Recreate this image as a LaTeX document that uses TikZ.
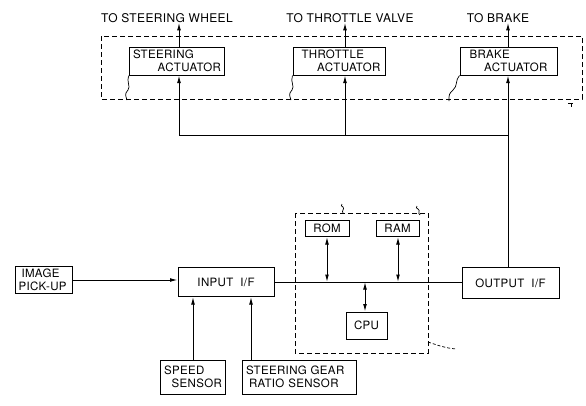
\documentclass[tikz,border=0pt]{standalone}
\usepackage{fontspec}
\setmainfont{TeX Gyre Heros}[LetterSpace=3]
\usetikzlibrary{arrows.meta}
\begin{document}
\begin{tikzpicture}[x=1pt,y=-1pt,
  box/.style={draw, line width=1pt, rectangle, inner xsep=3.5pt, inner ysep=1pt,
    font=\fontsize{11.5}{13.5}\selectfont, align=left},
  dbox/.style={draw, dash pattern=on 5pt off 3pt, line width=0.8pt},
  conn/.style={line width=1pt},
  tip/.tip={Latex[length=7.5pt,width=3.8pt]},
  arr/.style={conn, -tip},
  darr/.style={conn, tip-tip},
  lbl/.style={font=\fontsize{12}{14}\selectfont, inner sep=0pt},
  leader/.style={line width=0.7pt}
]
\useasboundingbox (0,0) rectangle (586,405);

% top dashed group
\draw[dbox] (101,36) rectangle (582,99);

% actuators
\node[box, minimum width=95pt, minimum height=28pt, text width=88pt] (sa) at (177,61)
  {STEERING\\\hspace*{\fill}ACTUATOR};
\node[box, minimum width=92pt, minimum height=28pt, text width=83pt] (ta) at (339,61)
  {\hspace*{4pt}THROTTLE\\\hspace*{\fill}ACTUATOR};
\node[box, minimum width=97pt, minimum height=28pt, text width=78pt] (ba) at (508.5,61)
  {BRAKE\\\hspace*{\fill}ACTUATOR};

% top labels
\node[lbl] (lsw) at (167,18) {TO STEERING WHEEL};
\node[lbl] (ltv) at (350,18) {TO THROTTLE VALVE};
\node[lbl] (lbr) at (498,18) {TO BRAKE};

\coordinate (sx) at (179,47);
\coordinate (tx) at (345,47);
\coordinate (bx) at (508,47);
\draw[arr] (sx) -- (sx |- lsw.south);
\draw[arr] (tx) -- (tx |- ltv.south);
\draw[arr] (bx) -- (bx |- lbr.south);

% lower blocks
\node[box, minimum width=57pt, minimum height=27pt, text width=50pt] (img) at (43.5,280)
  {\hspace*{3pt}IMAGE\\PICK-UP};
\node[box, minimum width=96pt, minimum height=29pt, align=center] (inp) at (226,282)
  {INPUT\ \ I/F};
\node[box, minimum width=97pt, minimum height=31pt, align=center] (out) at (510.5,283)
  {OUTPUT\ \ I/F};
\node[box, minimum width=65pt, minimum height=34pt, text width=58pt] (spd) at (193,377)
  {SPEED\\\hspace*{\fill}SENSOR};
\node[box, minimum width=114pt, minimum height=34pt, text width=106pt] (sgr) at (299,377)
  {STEERING GEAR\\\hspace*{3pt}RATIO SENSOR};

% CPU group
\draw[dbox] (295,213) rectangle (428,353);
\node[box, minimum width=44pt, minimum height=16pt, align=center] (rom) at (327,228.5) {ROM};
\node[box, minimum width=43pt, minimum height=16pt, align=center] (ram) at (397.5,228.5) {RAM};
\node[box, minimum width=41pt, minimum height=27pt, align=center] (cpu) at (366.5,325.5) {CPU};

% bus
\draw[conn] (inp.east |- 0,282) -- (out.west |- 0,282);
\coordinate (romb) at (327,282);
\coordinate (ramb) at (398,282);
\coordinate (cpub) at (365,282);
\draw[darr] (romb) -- (romb |- rom.south);
\draw[darr] (ramb) -- (ramb |- ram.south);
\draw[darr] (cpub) -- (cpub |- cpu.north);

% inputs
\draw[arr] (img.east) -- (inp.west |- img.east);
\coordinate (spx) at (193,360);
\coordinate (sgx) at (251,360);
\draw[arr] (spx) -- (spx |- inp.south);
\draw[arr] (sgx) -- (sgx |- inp.south);

% output to actuators
\coordinate (busl) at (179,135);
\coordinate (busr) at (508,135);
\draw[conn] (out.north -| busr) -- (busr) -- (busl);
\draw[arr] (busl) -- (busl |- sa.south);
\draw[arr] (tx |- busl) -- (tx |- ta.south);
\draw[arr] (busr) -- (busr |- ba.south);

% leaders (squiggles)
\draw[leader] (sa.south west) .. controls (126,82) and (131,86) .. (128,90) .. controls (125,94) .. (127,100);
\draw[leader] (ta.south west) .. controls (290,82) and (295,86) .. (292,90) .. controls (289,94) .. (291,100);
\draw[leader] (ba.south west) .. controls (455,80) and (458,86) .. (453,90) .. controls (449,94) .. (449,101);
\draw[leader] (568,103) -- (573,103) (571,103) -- (571,107);
\draw[leader] (343,213) .. controls (341,211) and (345,209) .. (343,207) .. controls (341,206) .. (342,204);
\draw[leader] (420,215) .. controls (417,213) and (421,211) .. (418,209) .. controls (416,208) .. (417,206);
\draw[leader, dash pattern=on 3pt off 2pt] (428,342) .. controls (437,345) and (445,348) .. (456,349);
\end{tikzpicture}
\end{document}
